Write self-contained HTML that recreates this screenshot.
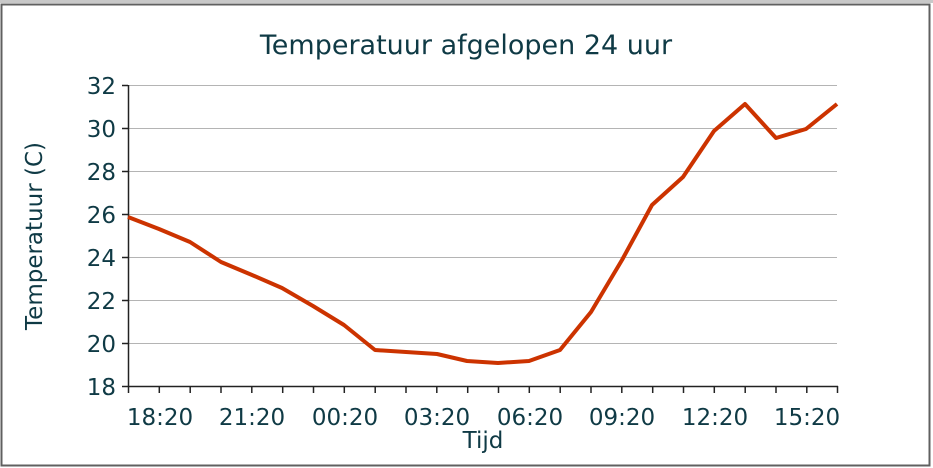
<!DOCTYPE html>
<html><head><meta charset="utf-8"><style>
html,body{margin:0;padding:0;background:#fff;width:933px;height:468px;overflow:hidden}
svg{display:block}
text{font-family:"DejaVu Sans","Liberation Sans",sans-serif;fill:#0f3a45}
</style></head><body>
<svg width="933" height="468" viewBox="0 0 933 468">
<rect x="0" y="0" width="933" height="468" fill="#fff"/>
<rect x="0" y="0" width="933" height="3" fill="#c8c8c8"/>
<rect x="1.5" y="4.5" width="928" height="461" fill="none" stroke="#606060" stroke-width="2"/>
<text x="466" y="54" font-size="27" text-anchor="middle">Temperatuur afgelopen 24 uur</text>
<g stroke="#b4b4b4" stroke-width="1">
<line x1="128" y1="85.5" x2="837" y2="85.5"/>
<line x1="128" y1="128.5" x2="837" y2="128.5"/>
<line x1="128" y1="171.5" x2="837" y2="171.5"/>
<line x1="128" y1="214.5" x2="837" y2="214.5"/>
<line x1="128" y1="257.5" x2="837" y2="257.5"/>
<line x1="128" y1="300.5" x2="837" y2="300.5"/>
<line x1="128" y1="343.5" x2="837" y2="343.5"/>
</g>
<g stroke="#222" stroke-width="1.5">
<line x1="128.5" y1="85" x2="128.5" y2="387"/>
<line x1="128" y1="386.5" x2="838" y2="386.5"/>
<line x1="122" y1="85.5" x2="128" y2="85.5"/>
<line x1="122" y1="128.5" x2="128" y2="128.5"/>
<line x1="122" y1="171.5" x2="128" y2="171.5"/>
<line x1="122" y1="214.5" x2="128" y2="214.5"/>
<line x1="122" y1="257.5" x2="128" y2="257.5"/>
<line x1="122" y1="300.5" x2="128" y2="300.5"/>
<line x1="122" y1="343.5" x2="128" y2="343.5"/>
<line x1="122" y1="386.5" x2="128" y2="386.5"/>
</g>
<g stroke="#222" stroke-width="1.5">
<line x1="128.5" y1="386" x2="128.5" y2="393"/><line x1="159.3" y1="386" x2="159.3" y2="393"/><line x1="190.2" y1="386" x2="190.2" y2="393"/><line x1="221" y1="386" x2="221" y2="393"/><line x1="251.8" y1="386" x2="251.8" y2="393"/><line x1="282.7" y1="386" x2="282.7" y2="393"/><line x1="313.5" y1="386" x2="313.5" y2="393"/><line x1="344.3" y1="386" x2="344.3" y2="393"/><line x1="375.2" y1="386" x2="375.2" y2="393"/><line x1="406" y1="386" x2="406" y2="393"/><line x1="436.8" y1="386" x2="436.8" y2="393"/><line x1="467.7" y1="386" x2="467.7" y2="393"/><line x1="498.5" y1="386" x2="498.5" y2="393"/><line x1="529.3" y1="386" x2="529.3" y2="393"/><line x1="560.2" y1="386" x2="560.2" y2="393"/><line x1="591" y1="386" x2="591" y2="393"/><line x1="621.8" y1="386" x2="621.8" y2="393"/><line x1="652.7" y1="386" x2="652.7" y2="393"/><line x1="683.5" y1="386" x2="683.5" y2="393"/><line x1="714.3" y1="386" x2="714.3" y2="393"/><line x1="745.2" y1="386" x2="745.2" y2="393"/><line x1="776" y1="386" x2="776" y2="393"/><line x1="806.8" y1="386" x2="806.8" y2="393"/><line x1="837.5" y1="386" x2="837.5" y2="393"/>
</g>
<g font-size="23" text-anchor="end">
<text x="116" y="94">32</text>
<text x="116" y="137">30</text>
<text x="116" y="180">28</text>
<text x="116" y="223">26</text>
<text x="116" y="266">24</text>
<text x="116" y="309">22</text>
<text x="116" y="352">20</text>
<text x="116" y="395">18</text>
</g>
<g font-size="23" text-anchor="middle">
<text x="160" y="425">18:20</text>
<text x="252" y="425">21:20</text>
<text x="345" y="425">00:20</text>
<text x="437" y="425">03:20</text>
<text x="530" y="425">06:20</text>
<text x="622" y="425">09:20</text>
<text x="715" y="425">12:20</text>
<text x="807" y="425">15:20</text>
</g>
<text x="483" y="448" font-size="23" text-anchor="middle">Tijd</text>
<text transform="translate(42,236) rotate(-90)" font-size="23" text-anchor="middle">Temperatuur (C)</text>
<polyline fill="none" stroke="#cc3300" stroke-width="4" stroke-linejoin="round"
points="128,217 159,229 190,242 221,262 252,275 282,288 313,306 344,325 375,350 406,352 437,354 467,361 498,363 529,361 560,350 591,312 622,260 652,205 683,177 714,131 745,104 776,138 806,129 837,104"/>
</svg>
</body></html>
